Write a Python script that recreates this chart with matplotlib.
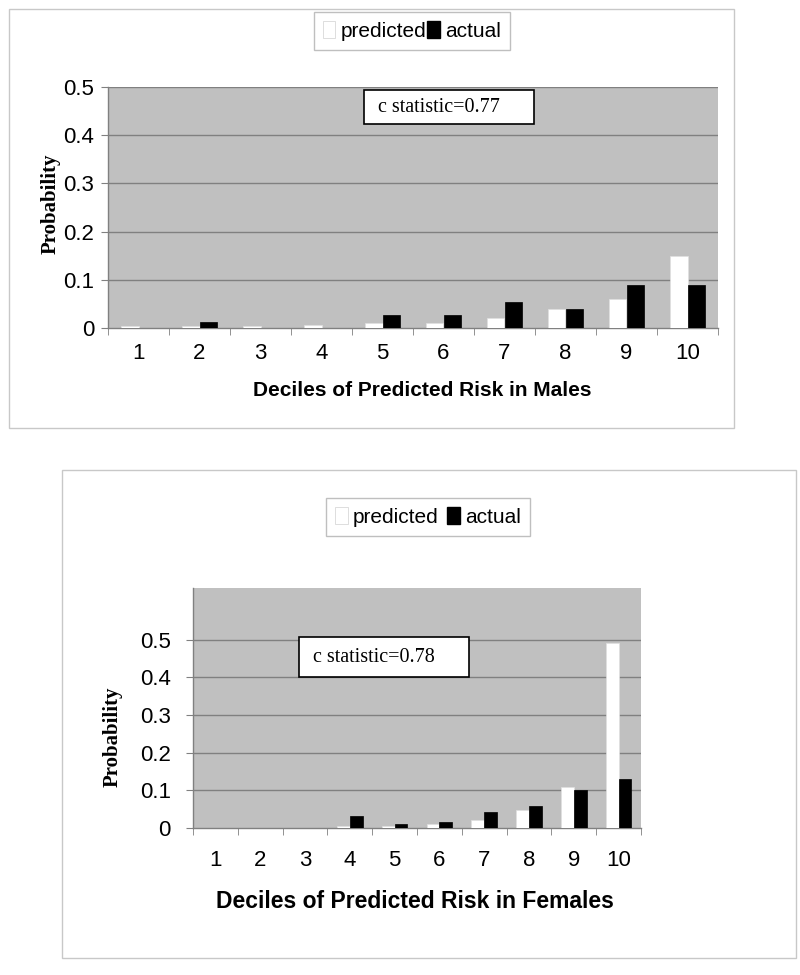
import numpy as np
import matplotlib
matplotlib.use("Agg")
import matplotlib.pyplot as plt
from matplotlib.patches import Rectangle, Patch

deciles = ["1", "2", "3", "4", "5", "6", "7", "8", "9", "10"]

male_predicted = [0.005, 0.005, 0.005, 0.007, 0.011, 0.011, 0.021, 0.039, 0.061, 0.149]
male_actual = [0.0, 0.012, 0.0, 0.0, 0.026, 0.026, 0.054, 0.039, 0.089, 0.089]

female_predicted = [0.0, 0.0, 0.0, 0.004, 0.004, 0.010, 0.020, 0.047, 0.109, 0.491]
female_actual = [0.0, 0.0, 0.0, 0.031, 0.010, 0.015, 0.042, 0.058, 0.100, 0.131]

yticks = [0, 0.1, 0.2, 0.3, 0.4, 0.5]
ytick_labels = ["0", "0.1", "0.2", "0.3", "0.4", "0.5"]

W, H = 800, 975
sans = ["Liberation Sans", "DejaVu Sans"]
serif = ["Liberation Serif", "DejaVu Serif"]

fig = plt.figure(figsize=(8, 9.75), dpi=100)


def fx(px):
    return px / W


def fy(py):
    return 1 - py / H


def frame(x0, y0, x1, y1, ec="#c8c8c8", lw=1.0):
    fig.patches.append(Rectangle((fx(x0), fy(y1)), fx(x1 - x0), (y1 - y0) / H,
                                 transform=fig.transFigure, fill=False,
                                 ec=ec, lw=lw))


def draw_panel(box, predicted, actual, ymax, c_text, c_box, leg_center,
               xlabel, xlabel_pos, xlabel_size, ylabel_pos, tick_pad, ytick_pad,
               leg_spacing):
    x0, y0, x1, y1 = box
    ax = fig.add_axes([fx(x0), fy(y1), fx(x1 - x0), (y1 - y0) / H])
    ax.set_facecolor("#c0c0c0")
    x = np.arange(len(deciles))
    bw = 1 / 3.5
    ax.bar(x - bw / 2, predicted, bw, color="white", edgecolor="#e0e0e0",
           linewidth=0.5, zorder=3, label="predicted")
    ax.bar(x + bw / 2, actual, bw, color="black", edgecolor="black",
           linewidth=0.5, zorder=3, label="actual")
    ax.set_xlim(-0.5, len(deciles) - 0.5)
    ax.set_ylim(0, ymax)
    ax.set_yticks(yticks)
    ax.set_yticklabels(ytick_labels, family=sans, fontsize=16)
    ax.set_xticks(x)
    ax.set_xticklabels(deciles, family=sans, fontsize=16)
    ax.set_xticks(np.arange(len(deciles) + 1) - 0.5, minor=True)
    ax.tick_params(axis="x", which="major", length=0, pad=tick_pad)
    ax.tick_params(axis="x", which="minor", length=5, color="#808080")
    ax.tick_params(axis="y", length=5, color="#808080", pad=ytick_pad)
    for t in yticks[1:]:
        ax.axhline(t, color="#808080", lw=1.0, zorder=1)
    for s in ["top", "right"]:
        ax.spines[s].set_visible(False)
    for s in ["left", "bottom"]:
        ax.spines[s].set_color("#808080")
        ax.spines[s].set_linewidth(1.0)

    # c statistic box
    cx0, cy0, cx1, cy1 = c_box
    fig.patches.append(Rectangle((fx(cx0), fy(cy1)), fx(cx1 - cx0), (cy1 - cy0) / H,
                                 transform=fig.transFigure, fc="white", ec="black",
                                 lw=1.2, zorder=5))
    fig.text(fx(cx0 + 14), fy((cy0 + cy1) / 2), c_text, family=serif,
             fontsize=14.5, ha="left", va="center", zorder=6)

    fig.text(fx(xlabel_pos[0]), fy(xlabel_pos[1]), xlabel, family=sans,
             fontsize=xlabel_size, weight="bold", ha="center", va="center")
    fig.text(fx(ylabel_pos[0]), fy(ylabel_pos[1]), "Probability", family=serif,
             fontsize=15, weight="bold", rotation=90, ha="center", va="center")

    handles = [Patch(fc="white", ec="#d0d0d0", lw=0.5), Patch(fc="black", ec="black")]
    leg = fig.legend(handles, ["predicted", "actual"], loc="center",
                     bbox_to_anchor=(fx(leg_center[0]), fy(leg_center[1])),
                     ncol=2, frameon=True, fancybox=False, handlelength=0.6,
                     handleheight=0.9, handletextpad=0.25, columnspacing=leg_spacing,
                     borderpad=0.45, borderaxespad=0,
                     prop={"family": sans, "size": 15})
    leg.get_frame().set_edgecolor("#b0b0b0")
    leg.get_frame().set_linewidth(1.0)
    return ax


# outer frames
frame(9, 9, 734, 428)
frame(62, 470, 796, 958)

draw_panel((108, 87, 718, 328), male_predicted, male_actual, 0.5,
           "c statistic=0.77", (364, 90, 534, 124), (412, 31),
           "Deciles of Predicted Risk in Males", (422, 390), 15, (51, 204),
           tick_pad=11, ytick_pad=5, leg_spacing=0.05)

draw_panel((193, 588, 641, 828), female_predicted, female_actual, 0.637,
           "c statistic=0.78", (299, 637, 469, 677), (428, 517),
           "Deciles of Predicted Risk in Females", (415, 902), 16.5, (113, 737),
           tick_pad=16, ytick_pad=11, leg_spacing=0.4)

fig.savefig("out.png", dpi=100, facecolor="white")
